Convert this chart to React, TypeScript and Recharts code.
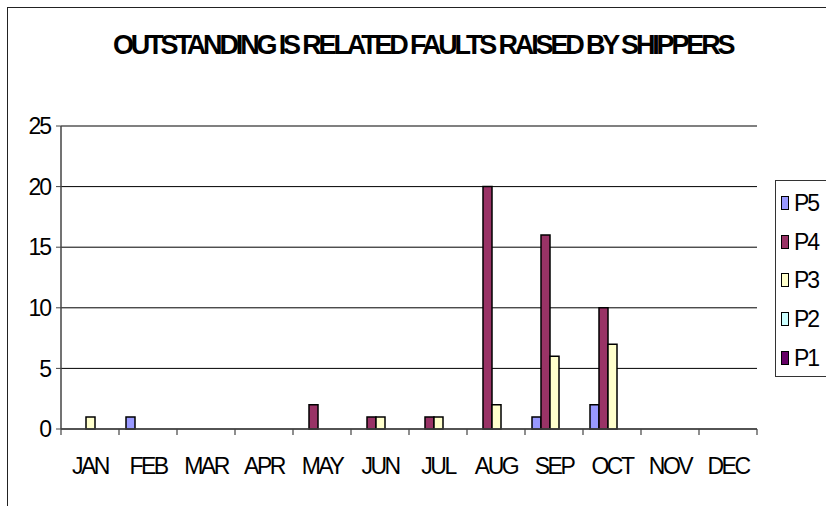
import React from "react";
import { BarChart, Bar, XAxis, YAxis, CartesianGrid, ReferenceLine } from "recharts";

const months = ["JAN", "FEB", "MAR", "APR", "MAY", "JUN", "JUL", "AUG", "SEP", "OCT", "NOV", "DEC"];
const p5 = [0, 1, 0, 0, 0, 0, 0, 0, 1, 2, 0, 0];
const p4 = [0, 0, 0, 0, 2, 1, 1, 20, 16, 10, 0, 0];
const p3 = [1, 0, 0, 0, 0, 1, 1, 2, 6, 7, 0, 0];
const p2 = [0, 0, 0, 0, 0, 0, 0, 0, 0, 0, 0, 0];
const p1 = [0, 0, 0, 0, 0, 0, 0, 0, 0, 0, 0, 0];
const yTicks = [0, 5, 10, 15, 20, 25];
const seriesNames = ["P5", "P4", "P3", "P2", "P1"];
const seriesColors = ["#9999FF", "#993366", "#FFFFCC", "#CCFFFF", "#660066"];
const title = "OUTSTANDING IS RELATED FAULTS RAISED BY SHIPPERS";

const data = months.map((m, i) => ({
  month: m,
  P5: p5[i],
  P4: p4[i],
  P3: p3[i],
  P2: p2[i],
  P1: p1[i],
}));

const FONT = "'Liberation Sans', Arial, sans-serif";

const MonthTick = (props: any) => {
  const { x, payload, index } = props;
  const half = payload && payload.offset ? payload.offset : 29;
  const n = months.length;
  return (
    <g>
      <line x1={x - half} y1={429} x2={x - half} y2={435} stroke="#444" strokeWidth={1.2} />
      {index === n - 1 ? (
        <line x1={x + half} y1={429} x2={x + half} y2={435} stroke="#444" strokeWidth={1.2} />
      ) : null}
      <text
        x={x}
        y={474}
        textAnchor="middle"
        fontFamily={FONT}
        fontSize={23}
        letterSpacing={-2.5}
        fill="#000"
      >
        {payload.value}
      </text>
    </g>
  );
};

export default function App() {
  return (
    <div
      style={{
        position: "absolute",
        left: 0,
        top: 0,
        width: 826,
        height: 506,
        overflow: "hidden",
        background: "#fff",
      }}
    >
      <div
        style={{
          position: "absolute",
          left: 7,
          top: 7,
          width: 840,
          height: 520,
          border: "1px solid #222",
        }}
      />
      <svg
        width={826}
        height={70}
        style={{ position: "absolute", left: 0, top: 0 }}
      >
        <text
          x={113}
          y={54}
          fontFamily={FONT}
          fontWeight="bold"
          fontSize={27}
          letterSpacing={-3.15}
          fill="#000"
        >
          {title}
        </text>
      </svg>
      <div style={{ position: "absolute", left: 0, top: 0 }}>
        <BarChart
          width={826}
          height={506}
          data={data}
          margin={{ top: 126, right: 69, bottom: 27, left: 11 }}
          barSize={9}
          barGap={0}
        >
          <CartesianGrid vertical={false} stroke="#000" strokeWidth={1} />
          <ReferenceLine y={25} stroke="#808080" strokeWidth={1.5} />
          <XAxis
            dataKey="month"
            height={50}
            tickLine={false}
            tickSize={0}
            tickMargin={0}
            axisLine={{ stroke: "#444", strokeWidth: 1.5 }}
            tick={<MonthTick />}
            interval={0}
          />
          <YAxis
            width={50}
            domain={[0, 25]}
            ticks={yTicks}
            interval={0}
            tickSize={5}
            tickMargin={6}
            tickLine={{ stroke: "#444" }}
            axisLine={{ stroke: "#444", strokeWidth: 1.5 }}
            tick={{ fontFamily: FONT, fontSize: 23, fill: "#000", letterSpacing: -2 }}
          />
          <YAxis
            yAxisId="r"
            orientation="right"
            width={0}
            domain={[0, 25]}
            tick={false}
            tickLine={false}
            axisLine={{ stroke: "#808080", strokeWidth: 1.5 }}
          />
          {seriesNames.map((name, i) => (
            <Bar
              key={name}
              dataKey={name}
              fill={seriesColors[i]}
              stroke="#000"
              strokeWidth={1.5}
              isAnimationActive={false}
            />
          ))}
        </BarChart>
      </div>
      <div
        style={{
          position: "absolute",
          left: 775,
          top: 180,
          width: 60,
          height: 195,
          border: "1px solid #333",
          background: "#fff",
        }}
      >
        {seriesNames.map((name, i) => (
          <div
            key={name}
            style={{
              position: "absolute",
              left: 0,
              top: 9 + i * 38.7,
              height: 26,
              display: "flex",
              alignItems: "center",
            }}
          >
            <div
              style={{
                marginLeft: 5,
                width: 6,
                height: 12,
                background: seriesColors[i],
                border: "1.5px solid #000",
              }}
            />
            <span
              style={{
                marginLeft: 5,
                fontFamily: FONT,
                fontSize: 23,
                letterSpacing: -2,
                color: "#000",
                lineHeight: "26px",
              }}
            >
              {name}
            </span>
          </div>
        ))}
      </div>
    </div>
  );
}
